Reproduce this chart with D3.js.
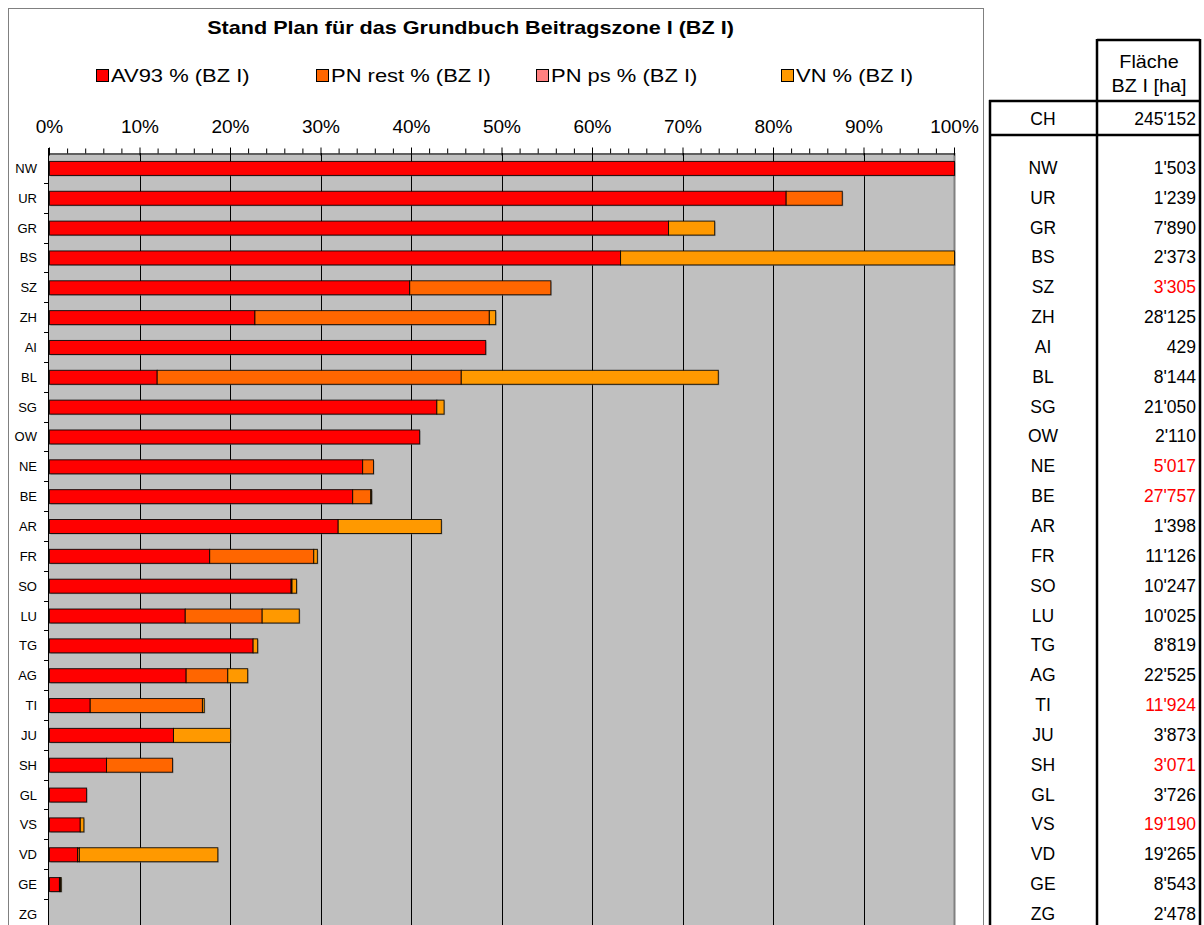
<!DOCTYPE html>
<html><head><meta charset="utf-8">
<script src="https://cdn.jsdelivr.net/npm/d3@7"></script>
<style>
body{margin:0;background:#fff;}
svg{display:block;font-family:Arial,"Liberation Sans",sans-serif;}
</style></head>
<body>
<svg id="c" width="1204" height="925"></svg>
<script>
const title = "Stand Plan für das Grundbuch Beitragszone I (BZ I)";
const categories = ["NW","UR","GR","BS","SZ","ZH","AI","BL","SG","OW","NE","BE","AR","FR","SO","LU","TG","AG","TI","JU","SH","GL","VS","VD","GE","ZG"];
const seriesNames = ["AV93 % (BZ I)","PN rest % (BZ I)","PN ps % (BZ I)","VN % (BZ I)"];
const seriesColors = ["#FF0000","#FF6600","#FF8080","#FF9900"];
// values in percent
const av93   = [100,81.4,68.4,63.1,39.8,22.7,48.2,11.9,42.8,40.9,34.6,33.5,31.9,17.7,26.7,15.0,22.5,15.1,4.5,13.7,6.3,4.1,3.4,3.1,1.1,0];
const pnRest = [0,6.2,0,0,15.6,25.9,0,33.6,0,0,1.2,2.0,0,11.5,0.1,8.5,0,4.6,12.4,0,7.3,0,0,0.2,0.1,0];
const pnPs   = [0,0,0,0,0,0,0,0,0,0,0,0,0,0,0,0,0,0,0,0,0,0,0,0,0,0];
const vn     = [0,0,5.1,36.9,0,0.7,0,28.4,0.8,0,0,0.1,11.4,0.4,0.5,4.1,0.5,2.2,0.2,6.3,0,0,0.4,15.3,0.1,0];
const tickValues = [0,10,20,30,40,50,60,70,80,90,100];
const tickLabels = ["0%","10%","20%","30%","40%","50%","60%","70%","80%","90%","100%"];
const tableHeader = ["Fläche","BZ I [ha]"];
const tableTotalLabel = "CH";
const tableTotal = "245'152";
const areas = ["1'503","1'239","7'890","2'373","3'305","28'125","429","8'144","21'050","2'110","5'017","27'757","1'398","11'126","10'247","10'025","8'819","22'525","11'924","3'873","3'071","3'726","19'190","19'265","8'543","2'478"];
const areaRed = ["SZ","NE","BE","TI","SH","VS"];

const svg = d3.select("#c");

// chart frame
svg.append("rect").attr("x",8.5).attr("y",8.5).attr("width",975).attr("height",940)
  .attr("fill","#fff").attr("stroke","#808080").attr("stroke-width",1);

svg.append("g").attr("transform","translate(470.5,33.5) scale(1.2,1)")
  .append("text").attr("text-anchor","middle")
  .attr("font-size",18).attr("font-weight","bold").text(title);

// legend
const legendX = [96,316,536,781];
seriesNames.forEach((n,i)=>{
  const g = svg.append("g").attr("transform",`translate(${legendX[i]},69)`);
  g.append("rect").attr("x",0.5).attr("y",0.5).attr("width",12).attr("height",12)
    .attr("fill",seriesColors[i]).attr("stroke","#000").attr("stroke-width",1);
  g.append("g").attr("transform","translate(15,13) scale(1.22,1)")
    .append("text").attr("font-size",18).text(n);
});

const x = d3.scaleLinear().domain([0,100]).range([49,954]);
const y = d3.scaleBand().domain(categories).range([153,153+26*29.84]).padding(0);

// plot background
svg.append("rect").attr("x",x(0)).attr("y",153).attr("width",x(100)-x(0)).attr("height",800)
  .attr("fill","#C0C0C0");
svg.append("line").attr("x1",x(100)+0.5).attr("x2",x(100)+0.5).attr("y1",153).attr("y2",925)
  .attr("stroke","#808080").attr("stroke-width",2);

// gridlines
svg.append("g").selectAll("line").data(tickValues.slice(1,-1)).join("line")
  .attr("x1",d=>Math.round(x(d))+0.5).attr("x2",d=>Math.round(x(d))+0.5)
  .attr("y1",153).attr("y2",925).attr("stroke","#000").attr("stroke-width",1);

// stacked bars
const rows = categories.map((c,i)=>({cat:c,a:av93[i],b:pnRest[i],c2:pnPs[i],d:vn[i]}));
const keys = ["a","b","c2","d"];
const stacked = d3.stack().keys(keys)(rows);
const bh = 14, off = (y.bandwidth()-bh)/2;
// shadow
svg.append("g").selectAll("rect").data(rows.filter(r=>r.a+r.b+r.c2+r.d>0)).join("rect")
  .attr("x",x(0)+1.5).attr("y",r=>y(r.cat)+off+1.5)
  .attr("width",r=>x(r.a+r.b+r.c2+r.d)-x(0)).attr("height",bh)
  .attr("fill","#7a7a7a").attr("opacity",0.6);
stacked.forEach((s,si)=>{
  svg.append("g").selectAll("rect").data(s.filter(d=>d[1]-d[0]>0)).join("rect")
    .attr("x",d=>x(d[0])+0.5).attr("y",d=>y(d.data.cat)+off+0.5)
    .attr("width",d=>x(d[1])-x(d[0])).attr("height",bh)
    .attr("fill",seriesColors[si]).attr("stroke","#000").attr("stroke-width",1)
    .attr("stroke-opacity",0.85);
});

// top value axis
const axTop = d3.axisTop(x).tickValues(tickValues).tickFormat((d,i)=>tickLabels[i])
  .tickSizeInner(6).tickSizeOuter(0).tickPadding(15);
const ga = svg.append("g").attr("transform","translate(0,153.5)").call(axTop);
ga.select(".domain").attr("stroke","#000");
ga.selectAll(".tick line").attr("y2",-6).attr("y1",2).attr("stroke","#000");
ga.selectAll("text").attr("font-size",19).attr("font-family","Arial,'Liberation Sans',sans-serif").attr("fill","#000");
const minor = d3.range(0,101,2).filter(v=>v%10!==0);
svg.append("g").attr("transform","translate(0,153.5)")
  .call(d3.axisTop(x).tickValues(minor).tickSize(5).tickFormat(""))
  .call(g=>g.select(".domain").remove());

// category axis
svg.append("line").attr("x1",x(0)-0.5).attr("x2",x(0)-0.5).attr("y1",148).attr("y2",925)
  .attr("stroke","#000").attr("stroke-width",1);
svg.append("g").selectAll("line").data(categories.slice(1)).join("line")
  .attr("x1",x(0)-5).attr("x2",x(0)).attr("y1",d=>Math.round(y(d))+0.5).attr("y2",d=>Math.round(y(d))+0.5)
  .attr("stroke","#000");
svg.append("g").selectAll("text").data(categories).join("text")
  .attr("x",37).attr("y",d=>y(d)+y.bandwidth()/2+5).attr("text-anchor","end")
  .attr("font-size",13).text(d=>d);

// table
const tl = svg.append("g");
const T = {l:990,m:1097,r:1200,top:40,h1:101,h2:135};
const lw = 2.5;
tl.append("line").attr("x1",T.m).attr("x2",T.r).attr("y1",T.top).attr("y2",T.top).attr("stroke","#000").attr("stroke-width",lw);
tl.append("line").attr("x1",T.m).attr("x2",T.m).attr("y1",T.top-1).attr("y2",925).attr("stroke","#000").attr("stroke-width",lw);
tl.append("line").attr("x1",T.r).attr("x2",T.r).attr("y1",T.top-1).attr("y2",925).attr("stroke","#000").attr("stroke-width",lw);
tl.append("line").attr("x1",T.l).attr("x2",T.l).attr("y1",T.h1-1).attr("y2",925).attr("stroke","#000").attr("stroke-width",lw);
tl.append("line").attr("x1",T.l-1).attr("x2",T.r+1).attr("y1",T.h1).attr("y2",T.h1).attr("stroke","#000").attr("stroke-width",lw);
tl.append("line").attr("x1",T.l-1).attr("x2",T.r+1).attr("y1",T.h2).attr("y2",T.h2).attr("stroke","#000").attr("stroke-width",lw);
tableHeader.forEach((h,i)=>{
  tl.append("g").attr("transform",`translate(1149,${68+i*24}) scale(1.1,1)`)
    .append("text").attr("text-anchor","middle").attr("font-size",18).text(h);
});
tl.append("text").attr("x",1043).attr("y",125).attr("text-anchor","middle").attr("font-size",17.5).text(tableTotalLabel);
tl.append("text").attr("x",1196).attr("y",125).attr("text-anchor","end").attr("font-size",17.5).text(tableTotal);
tl.append("g").selectAll("text").data(categories).join("text")
  .attr("x",1043).attr("y",d=>y(d)+y.bandwidth()/2+6).attr("text-anchor","middle")
  .attr("font-size",17.5).text(d=>d);
tl.append("g").selectAll("text").data(categories).join("text")
  .attr("x",1196).attr("y",d=>y(d)+y.bandwidth()/2+6).attr("text-anchor","end")
  .attr("font-size",17.5).attr("fill",d=>areaRed.includes(d)?"#FF0000":"#000")
  .text((d,i)=>areas[i]);
</script>
</body></html>
